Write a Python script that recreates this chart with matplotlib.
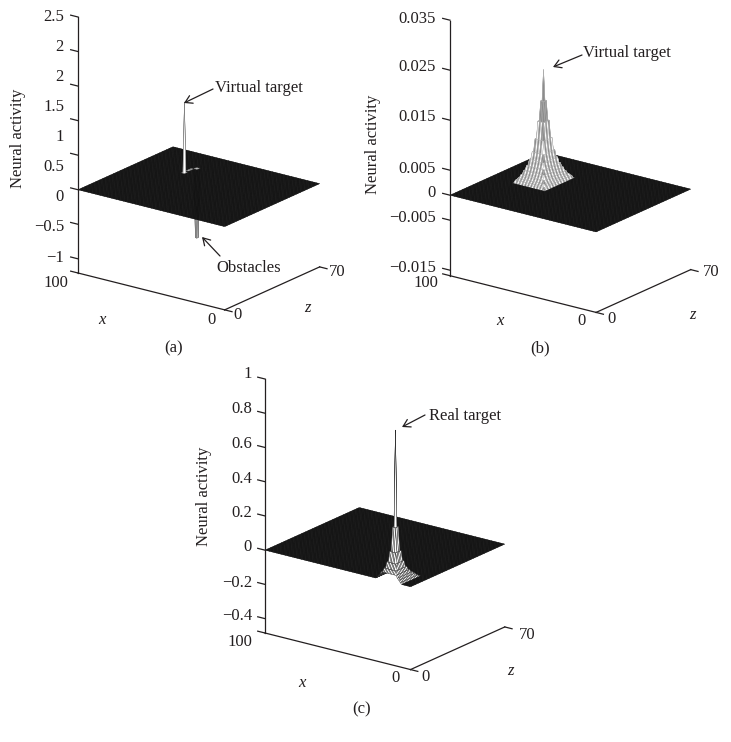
"""
Neural activity landscapes, three orthographic mesh panels (a), (b), (c).
"""

import numpy as np
import matplotlib
matplotlib.use('Agg')
import matplotlib.pyplot as plt
from matplotlib.colors import to_rgba
from mpl_toolkits.mplot3d import proj3d

W, H = 731, 742
INK = '#231f20'
SERIF = 'Liberation Serif'

peak_rings_a = [1.02]
peak_rings_b = [0.0222, 0.016, 0.012, 0.0085, 0.006, 0.0045, 0.0033, 0.0024,
                0.0016, 0.0010, 0.0006]
peak_rings_c = [0.865, 0.30, 0.16, 0.10, 0.065, 0.045, 0.03, 0.02, 0.008]

# Summit positions (x, z)
peak_pos_a = (70, 46)
peak_pos_b = (73, 40)
peak_pos_c = (15, 5)

# Single grid nodes away from the peaks (x, z, activity): the obstacle pit of (a)
extra_nodes_a = [(69, 53, -1.0), (68, 53, -1.0), (69, 54, -1.0), (68, 54, -1.0),
                 (70, 49, -0.01), (70, 51, -0.01)]

# Value axis ticks and limits
ticks_a = [-1, -0.5, 0, 0.5, 1, 1.5, 2, 2.5]
ticks_b = [-0.015, -0.005, 0, 0.005, 0.015, 0.025, 0.035]
ticks_c = [-0.4, -0.2, 0, 0.2, 0.4, 0.6, 0.8, 1]
limits_a = (-1.205, 2.5)
limits_b = (-0.0161, 0.0349)
limits_c = (-0.484, 1.0)

# Printed tick labels (in the source these do not line up with all the ticks)
labels_a = ['2.5', '2', '2', '1.5', '1', '0.5', '0', '\u22120.5', '\u22121']
labels_b = ['0.035', '0.025', '0.015', '0.005', '0', '\u22120.005', '\u22120.015']
labels_c = ['1', '0.8', '0.6', '0.4', '0.2', '0', '\u22120.2', '\u22120.4']

# Label rows in image pixels
label_y_a = [17, 47, 77, 107, 137, 167, 197, 227, 258]
label_y_b = [19, 67, 117, 169, 193, 218, 268]
label_y_c = [374, 409, 444, 479, 513, 547, 583, 616]

PANELS = [
    dict(rings=peak_rings_a, pos=peak_pos_a, extra=extra_nodes_a, ticks=ticks_a,
         limits=limits_a, labels=labels_a, label_y=label_y_a, label_r=64,
         top=(78, 17), bottom=(78, 273), flank_edge='#777777', style='plain',
         x100=(68, 283), x0=(212, 320), z0=(237, 315), z70=(337, 272),
         xname=(102, 320), zname=(307, 308), tag=('(a)', 174, 348), ylab=(18, 138),
         notes=[('Virtual target', (215, 88), (213, 89), (184, 103)),
                ('Obstacles', (216, 268), (220, 256), (202, 237))]),
    dict(rings=peak_rings_b, pos=peak_pos_b, extra=[], ticks=ticks_b,
         limits=limits_b, labels=labels_b, label_y=label_y_b, label_r=436,
         top=(450, 20.7), bottom=(450, 275.7), flank_edge='#b0b0b0', style='stripes',
         x100=(438, 283), x0=(582, 321), z0=(612, 319), z70=(711, 272),
         xname=(500, 321), zname=(692, 315), tag=('(b)', 540, 348), ylab=(373, 144),
         notes=[('Virtual target', (583, 53), (582, 55), (553, 67))]),
    dict(rings=peak_rings_c, pos=peak_pos_c, extra=[], ticks=ticks_c,
         limits=limits_c, labels=labels_c, label_y=label_y_c, label_r=252,
         top=(265, 379), bottom=(265, 633), flank_edge='#222222', style='shaded',
         x100=(252, 642), x0=(395, 678), z0=(426, 677), z70=(527, 635),
         xname=(302, 683), zname=(510, 671), tag=('(c)', 362, 709), ylab=(204, 496),
         notes=[('Real target', (429, 416), (425, 415), (402, 427))]),
]


def build_activity(rings, pos, extra):
    """Flat sheet on a 1-unit grid with square rings round the summit."""
    x = np.arange(0, 101)
    z = np.arange(0, 71)
    zz, xx = np.meshgrid(z, x)
    activity = np.zeros(xx.shape)
    dist = np.maximum(np.abs(xx - pos[0]), np.abs(zz - pos[1]))
    for r, value in enumerate(rings):
        activity[dist == r] = value
    for nx, nz, value in extra:
        activity[nx, nz] = value
    return zz, xx, activity


def cell_colours(activity, pos, flank_edge, style):
    """Dark faces on the flat sheet, light ones wherever the mesh lifts off it."""
    corners = np.stack([activity[:-1, :-1], activity[1:, :-1],
                        activity[:-1, 1:], activity[1:, 1:]])
    flat = np.all(corners == 0, axis=0)
    pit = np.any(corners < 0, axis=0)
    ni, nj = flat.shape
    faces = np.empty((ni, nj, 4))
    edges = np.empty((ni, nj, 4))
    for i in range(ni):
        for j in range(nj):
            if flat[i, j]:
                faces[i, j] = to_rgba('#262626')
                edges[i, j] = to_rgba('#0e0e0e')
                continue
            faces[i, j] = to_rgba('#bdbdbd' if pit[i, j] else 'white')
            edges[i, j] = to_rgba(flank_edge)
            di, dj = i - pos[0], j - pos[1]
            ring = max(abs(di), abs(dj))
            if style == 'stripes':
                along = j if abs(di) >= abs(dj) else i
                if along % 2 or ring < 3:
                    faces[i, j] = to_rgba('#8c8c8c')
            elif style == 'shaded' and di > abs(dj) and ring >= 3:
                faces[i, j] = to_rgba('#6e6e6e')
    return faces, edges


def to_pixels(ax, z, x, v):
    u, w, _ = proj3d.proj_transform(z, x, v, ax.get_proj())
    px, py = ax.transData.transform((u, w))
    return px, H - py


def place_axes(ax, top, bottom, vtop, vbottom):
    """Size and shift the 3D box so its vertical edge lands on top/bottom."""
    s0 = 400
    ax.set_position([0, 0, s0 / W, s0 / H])
    ax.apply_aspect()
    _, y0 = to_pixels(ax, 0, 100, vtop)
    _, y1 = to_pixels(ax, 0, 100, vbottom)
    s = s0 * (bottom[1] - top[1]) / (y1 - y0)
    ax.set_position([0, 0, s / W, s / H])
    ax.apply_aspect()
    px, py = to_pixels(ax, 0, 100, vbottom)
    left = (bottom[0] - px) / W
    low = (py - bottom[1]) / H
    ax.set_position([left, low, s / W, s / H])
    ax.apply_aspect()


def draw_panel(fig, page, p):
    ax = fig.add_axes([0, 0, 0.5, 0.5], projection='3d')
    ax.set_proj_type('ortho')
    ax.computed_zorder = False
    lo, hi = p['limits']
    ax.set_xlim(0, 70)
    ax.set_ylim(0, 100)
    ax.set_zlim(lo, hi)
    ax.set_box_aspect((159, 183, 272))
    ax.view_init(elev=19.7, azim=-143.3)
    ax.set_axis_off()
    ax.patch.set_alpha(0)
    place_axes(ax, p['top'], p['bottom'], hi, lo)

    zz, xx, activity = build_activity(p['rings'], p['pos'], p['extra'])
    faces, edges = cell_colours(activity, p['pos'], p['flank_edge'], p['style'])
    surf = ax.plot_surface(zz, xx, activity, rstride=1, cstride=1, facecolors=faces,
                           linewidth=0.3, shade=False)
    surf.set_edgecolor(edges.reshape(-1, 4))

    # Box edges
    axis_kw = dict(color=INK, linewidth=0.9, clip_on=False)
    ax.plot([0, 0], [100, 100], [lo, hi], **axis_kw)
    ax.plot([0, 0], [100, 0], [lo, lo], **axis_kw)
    ax.plot([0, 70], [0, 0], [lo, lo], **axis_kw)

    # Ticks stick out along x
    for t in list(p['ticks']) + [lo]:
        ax.plot([0, 0], [100, 105], [t, t], **axis_kw)
    ax.plot([0, 0], [0, -5], [lo, lo], **axis_kw)
    ax.plot([70, 70], [0, -5], [lo, lo], **axis_kw)

    # Text goes on the flat page axes, in image pixels
    text_kw = dict(family=SERIF, fontsize=12, color=INK)
    for label, y in zip(p['labels'], p['label_y']):
        page.text(p['label_r'], y, label, ha='right', va='center', **text_kw)
    page.text(*p['x100'], '100', ha='right', va='center', **text_kw)
    page.text(*p['x0'], '0', ha='center', va='center', **text_kw)
    page.text(*p['z0'], '0', ha='center', va='center', **text_kw)
    page.text(*p['z70'], '70', ha='center', va='center', **text_kw)
    page.text(*p['xname'], 'x', ha='center', va='center', style='italic', **text_kw)
    page.text(*p['zname'], 'z', ha='center', va='center', style='italic', **text_kw)
    page.text(p['tag'][1], p['tag'][2], p['tag'][0], ha='center', va='center', **text_kw)
    page.text(*p['ylab'], 'Neural activity', rotation=90, ha='center', va='center', **text_kw)
    for note, spot, tail, head in p['notes']:
        page.text(*spot, note, ha='left', va='center', **text_kw)
        page.annotate('', xy=head, xytext=tail,
                      arrowprops=dict(arrowstyle='->,head_length=0.5,head_width=0.3',
                                      color=INK, linewidth=0.9,
                                      shrinkA=0, shrinkB=0))


def main():
    fig = plt.figure(figsize=(W / 100, H / 100), dpi=100, facecolor='white')
    page = fig.add_axes([0, 0, 1, 1], zorder=10)
    page.set_xlim(0, W)
    page.set_ylim(H, 0)
    page.axis('off')
    page.patch.set_alpha(0)

    for p in PANELS:
        draw_panel(fig, page, p)

    fig.savefig('out.png', dpi=100)
    plt.close(fig)


if __name__ == '__main__':
    main()
